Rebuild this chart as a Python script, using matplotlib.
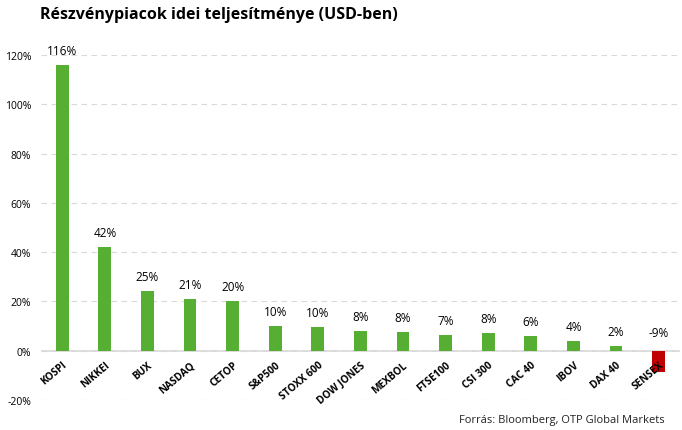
import numpy as np
import matplotlib.pyplot as plt

plt.rcParams['font.family'] = ['Open Sans', 'DejaVu Sans']

markets = ['KOSPI', 'NIKKEI', 'BUX', 'NASDAQ', 'CETOP', 'S&P500', 'STOXX 600',
           'DOW JONES', 'MEXBOL', 'FTSE100', 'CSI 300', 'CAC 40', 'IBOV', 'DAX 40', 'SENSEX']
returns = [116, 42.2, 24.3, 21, 20.3, 10.1, 9.7, 8.1, 7.7, 6.5, 7.3, 6.1, 4, 2, -8.5]
labels = ['116%', '42%', '25%', '21%', '20%', '10%', '10%', '8%', '8%', '7%', '8%',
          '6%', '4%', '2%', '-9%']

green = '#56ae33'
red = '#c00000'

fig = plt.figure(figsize=(6.82, 4.31), dpi=100)
ax = fig.add_axes([0.060, 0.0696, 0.937, 0.8004])

x = np.arange(len(markets))
colors = [green if v >= 0 else red for v in returns]
ax.bar(x, returns, width=0.3, color=colors, zorder=3)

for xi, v, lab in zip(x, returns, labels):
    y = max(v, 0)
    off = 13 if v < 0 else 10.5
    ax.annotate(lab, (xi, y), xytext=(0, off), textcoords='offset points',
                ha='center', va='center', fontsize=8.5, color='black')

# category names drawn as text so they sit on top of the negative bar
for xi, name in zip(x, markets):
    ax.annotate(name, (xi, 0), xytext=(0, -6), textcoords='offset points',
                rotation=40, ha='right', va='top', rotation_mode='anchor',
                fontsize=7.3, fontweight='bold', zorder=5)

ax.set_xlim(-0.5, len(markets) - 0.5)
ax.set_ylim(-20, 120)
ax.set_yticks(np.arange(-20, 121, 20))
ax.set_yticklabels([f'{t}%' for t in range(-20, 121, 20)], fontsize=7.5)
ax.yaxis.grid(True, linestyle=(0, (5, 4)), color='#d9d9d9', linewidth=0.8, zorder=0)
ax.set_axisbelow(True)
ax.axhline(0, color='#d9d9d9', linewidth=1.2, zorder=2)

ax.set_xticks([])
ax.tick_params(axis='both', length=0)
ax.tick_params(axis='y', pad=7)

for s in ax.spines.values():
    s.set_visible(False)

fig.text(0.058, 0.965, 'Részvénypiacok idei teljesítménye (USD-ben)',
         fontsize=11.5, fontweight='bold', ha='left', va='center')
fig.text(0.975, 0.025, 'Forrás: Bloomberg, OTP Global Markets',
         fontsize=8, ha='right', va='center', color='#222222')

fig.savefig('out.png', dpi=100)
